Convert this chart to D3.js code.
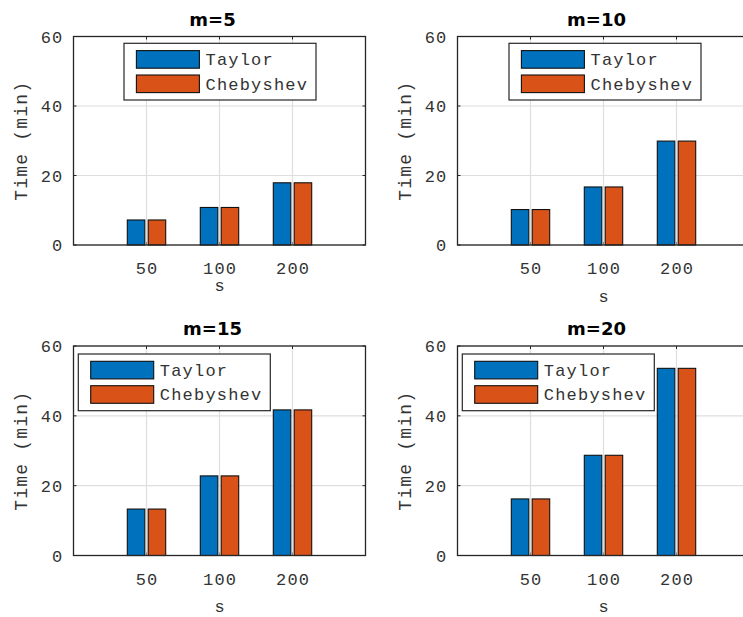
<!DOCTYPE html>
<html>
<head>
<meta charset="utf-8">
<script src="https://cdn.jsdelivr.net/npm/d3@7"></script>
<style>
  html, body { margin: 0; padding: 0; background: #fff; overflow: hidden; }
  svg { display: block; }
</style>
</head>
<body>
<svg id="chart" width="743" height="617"></svg>
<script>
// ---- data ----
const categories = ["50", "100", "200"];
const mValues = [5, 10, 15, 20];
const seriesNames = ["Taylor", "Chebyshev"];
const taylor = [
  [7.2, 10.8, 17.9],
  [10.2, 16.7, 29.9],
  [13.3, 22.8, 41.7],
  [16.2, 28.7, 53.6]
];
const chebyshev = [
  [7.2, 10.8, 17.9],
  [10.2, 16.7, 29.9],
  [13.3, 22.8, 41.7],
  [16.2, 28.7, 53.6]
];
const yTicks = [0, 20, 40, 60];
const yDomain = [0, 60];
const xLabel = "s";
const yLabel = "Time (min)";
const colors = ["#0072BD", "#D95319"];

// ---- layout ----
const panels = [
  { left: 73.5, right: 365.5, top: 36.5, bottom: 245, legX: 124, legY: 43.3, xlabY: 291 },
  { left: 457.5, right: 749.5, top: 36.5, bottom: 245, legX: 509, legY: 43.3, xlabY: 302 },
  { left: 73.5, right: 365.5, top: 346, bottom: 555.5, legX: 78.3, legY: 354, xlabY: 612 },
  { left: 457.5, right: 749.5, top: 346, bottom: 555.5, legX: 462.3, legY: 354, xlabY: 612 }
];

const axisColor = "#262626";
const textColor = "#333333";
const gridColor = "#dedede";
const monoFont = "'Liberation Mono', 'DejaVu Sans Mono', monospace";
const svg = d3.select("#chart");
svg.append("rect").attr("width", 743).attr("height", 617).attr("fill", "#fff");

panels.forEach((p, i) => {
  const g = svg.append("g");
  const x = d3.scaleLinear().domain([0, categories.length + 1]).range([p.left, p.right]);
  const y = d3.scaleLinear().domain(yDomain).range([p.bottom, p.top]);
  const catX = (j) => x(j + 1);
  const halfOffset = 0.143, barW = 0.24;

  // grid
  g.selectAll(".gy").data(yTicks).enter().append("line")
    .attr("x1", p.left).attr("x2", p.right)
    .attr("y1", d => y(d)).attr("y2", d => y(d))
    .attr("stroke", gridColor).attr("stroke-width", 1.2);
  g.selectAll(".gx").data(categories).enter().append("line")
    .attr("x1", (d, j) => catX(j)).attr("x2", (d, j) => catX(j))
    .attr("y1", p.top).attr("y2", p.bottom)
    .attr("stroke", gridColor).attr("stroke-width", 1.2);

  // inner ticks
  const tl = 3;
  yTicks.forEach(t => {
    g.append("line").attr("x1", p.left).attr("x2", p.left + tl).attr("y1", y(t)).attr("y2", y(t)).attr("stroke", axisColor);
    g.append("line").attr("x1", p.right).attr("x2", p.right - tl).attr("y1", y(t)).attr("y2", y(t)).attr("stroke", axisColor);
  });
  categories.forEach((c, j) => {
    g.append("line").attr("x1", catX(j)).attr("x2", catX(j)).attr("y1", p.bottom).attr("y2", p.bottom - tl).attr("stroke", "#888");
    g.append("line").attr("x1", catX(j)).attr("x2", catX(j)).attr("y1", p.top).attr("y2", p.top + tl).attr("stroke", axisColor);
  });

  // bars
  const series = [taylor[i], chebyshev[i]];
  series.forEach((vals, s) => {
    const off = s === 0 ? -halfOffset : halfOffset;
    g.selectAll(".bar" + s).data(vals).enter().append("rect")
      .attr("x", (d, j) => x(j + 1 + off - barW / 2))
      .attr("width", x(barW) - x(0))
      .attr("y", d => y(d))
      .attr("height", d => y(0) - y(d))
      .attr("fill", colors[s])
      .attr("stroke", "#111").attr("stroke-width", 1.1);
  });

  // box
  g.append("rect").attr("x", p.left).attr("y", p.top)
    .attr("width", p.right - p.left).attr("height", p.bottom - p.top)
    .attr("fill", "none").attr("stroke", axisColor).attr("stroke-width", 1.3);

  // y tick labels
  g.selectAll(".yl").data(yTicks).enter().append("text")
    .attr("x", p.left - 10).attr("y", d => y(d) + 6)
    .attr("text-anchor", "end")
    .attr("font-family", monoFont).attr("font-size", 17).attr("letter-spacing", 1.2)
    .attr("fill", textColor).text(d => d);

  // x tick labels
  g.selectAll(".xl").data(categories).enter().append("text")
    .attr("x", (d, j) => catX(j) + 0.6).attr("y", p.bottom + 29)
    .attr("text-anchor", "middle")
    .attr("font-family", monoFont).attr("font-size", 17).attr("letter-spacing", 1.2)
    .attr("fill", textColor).text(d => d);

  // x label
  g.append("text").attr("x", x(2)).attr("y", p.xlabY)
    .attr("text-anchor", "middle")
    .attr("font-family", monoFont).attr("font-size", 17)
    .attr("fill", textColor).text(xLabel);

  // y label
  const ycx = p.left - 47, ycy = (p.top + p.bottom) / 2;
  g.append("text").attr("transform", `translate(${ycx},${ycy}) rotate(-90)`)
    .attr("text-anchor", "middle")
    .attr("font-family", monoFont).attr("font-size", 18).attr("letter-spacing", 1.2)
    .attr("fill", textColor).text(yLabel);

  // title
  g.append("text").attr("x", (p.left + p.right) / 2 - 7).attr("y", p.top - 11)
    .attr("text-anchor", "middle")
    .attr("font-family", "'DejaVu Sans', sans-serif").attr("font-weight", "bold").attr("font-size", 18)
    .attr("fill", "#000").text("m=" + mValues[i]);

  // legend
  const lg = g.append("g").attr("transform", `translate(${p.legX},${p.legY})`);
  lg.append("rect").attr("width", 192).attr("height", 56.7)
    .attr("fill", "#fff").attr("stroke", axisColor).attr("stroke-width", 1.2);
  seriesNames.forEach((name, s) => {
    const sy = 7.3 + s * 24.4;
    lg.append("rect").attr("x", 12.4).attr("y", sy).attr("width", 63).attr("height", 17.6)
      .attr("fill", colors[s]).attr("stroke", "#111").attr("stroke-width", 1.1);
    lg.append("text").attr("x", 81.5).attr("y", sy + 14.6)
      .attr("font-family", monoFont).attr("font-size", 17).attr("letter-spacing", 1.2)
      .attr("fill", textColor).text(name);
  });
});
</script>
</body>
</html>
